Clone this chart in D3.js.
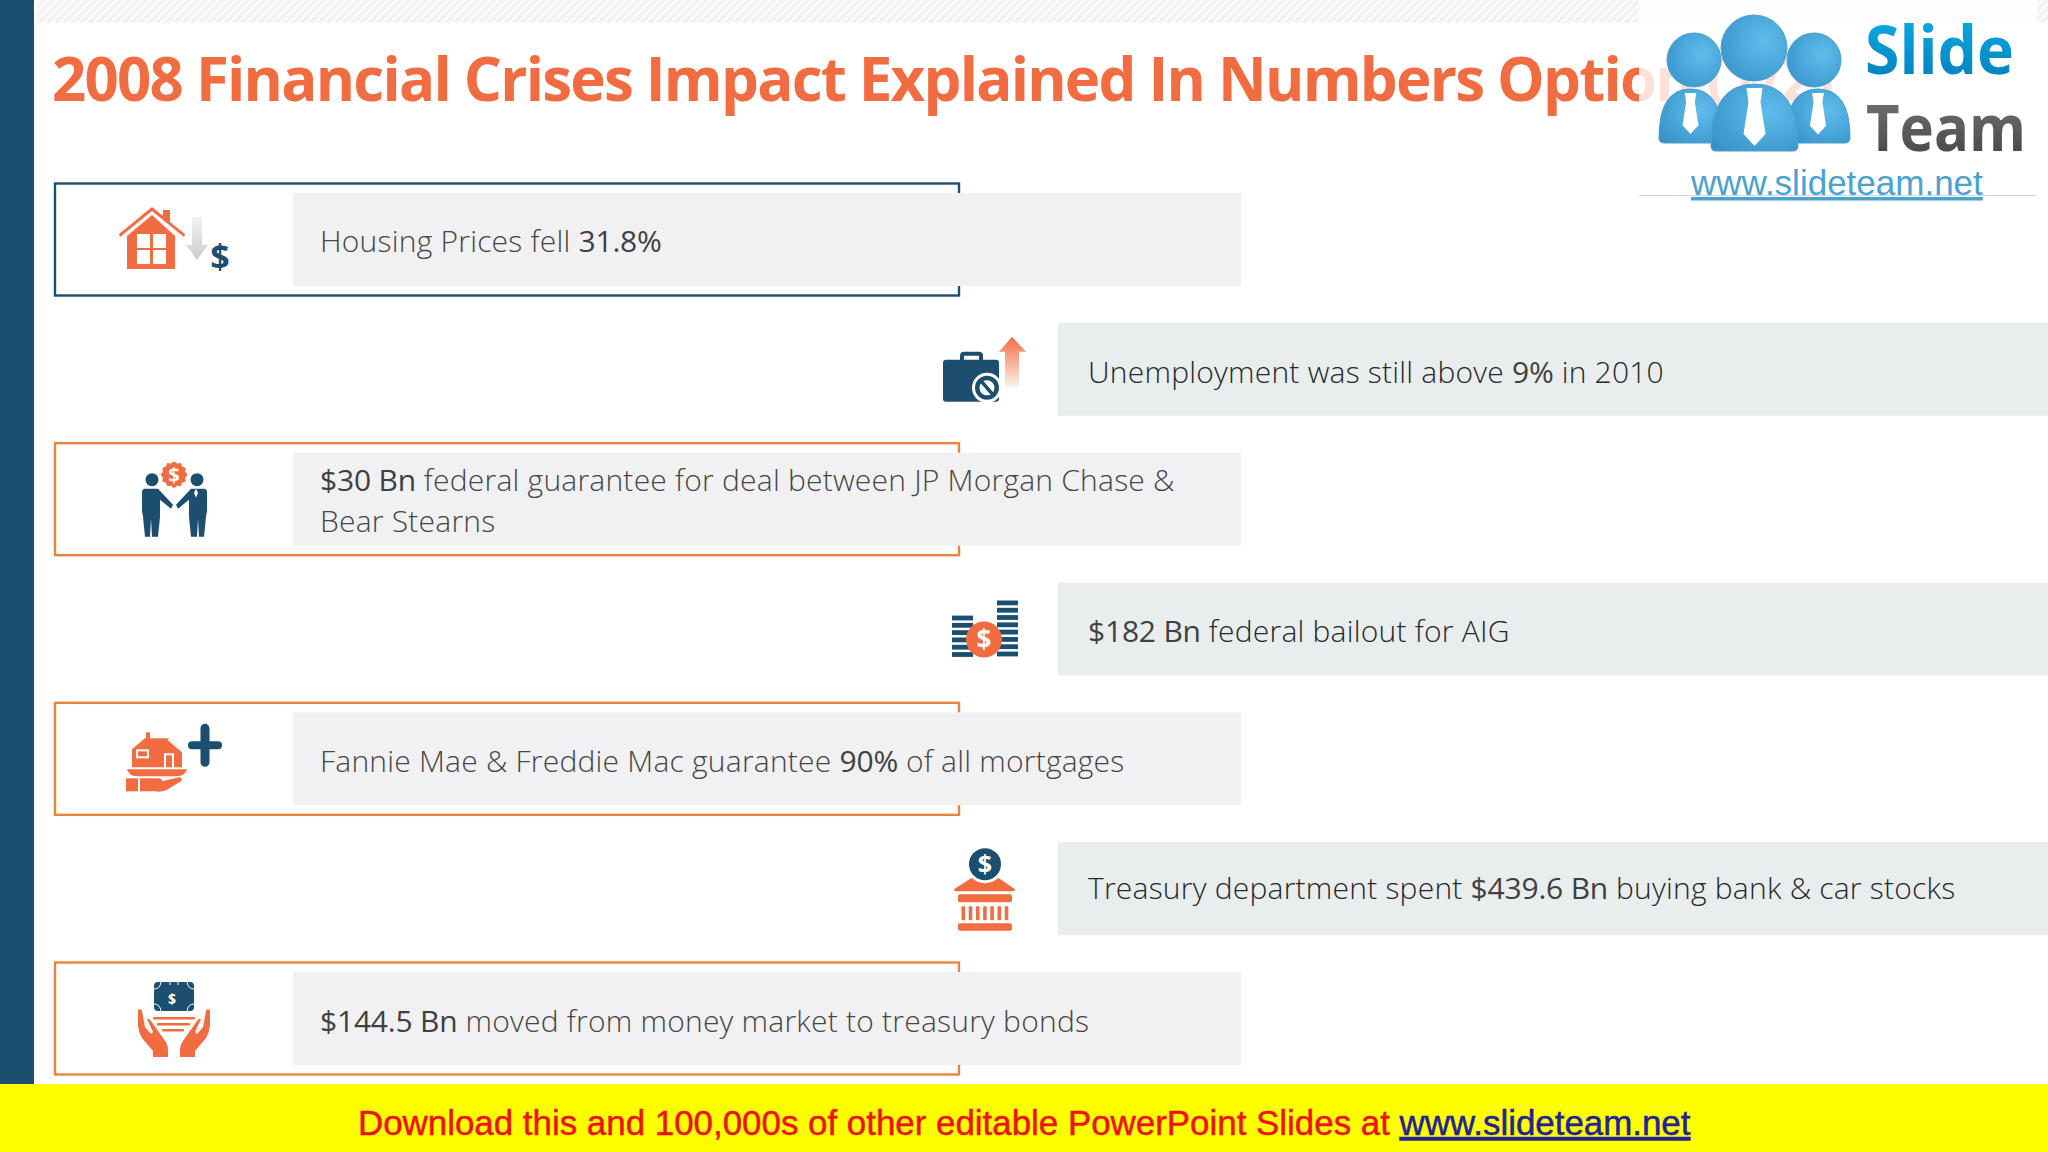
<!DOCTYPE html>
<html><head><meta charset="utf-8">
<script src="https://cdn.jsdelivr.net/npm/d3@7/dist/d3.min.js"></script>
<style>html,body{margin:0;padding:0;background:#fff;overflow:hidden}svg{display:block}</style>
</head><body>
<script>
// ---------- content ----------
const titleText = "2008 Financial Crises Impact Explained In Numbers Option (1/2)";
const rowOrder = [0,1,2,3,4,5,6];
const rowSegments = [
  [[["Housing Prices fell ",0],["31.8%",1]]],
  [[["Unemployment was still above ",0],["9%",1],[" in 2010",0]]],
  [[["$30 Bn",1],[" federal guarantee for deal between JP Morgan Chase &",0]],[["Bear Stearns",0]]],
  [[["$182 Bn",1],[" federal bailout for AIG",0]]],
  [[["Fannie Mae & Freddie Mac guarantee ",0],["90%",1],[" of all mortgages",0]]],
  [[["Treasury department spent ",0],["$439.6 Bn",1],[" buying bank & car stocks",0]]],
  [[["$144.5 Bn",1],[" moved from money market to treasury bonds",0]]]
];
const footerPlain = "Download this and 100,000s of other editable PowerPoint Slides at ";
const footerLink = "www.slideteam.net";
const logoWords = ["Slide","Team"];

// ---------- palette ----------
const NAVY="#1c4e6f", ORANGE="#f26c42", AMBER="#e8843c", GREYL="#f1f1f3", GREYR="#e9edee";

const W=2048,H=1152;
const svg=d3.select("body").append("svg").attr("width",W).attr("height",H).attr("viewBox",`0 0 ${W} ${H}`)
  .style("font-family","'Open Sans',sans-serif");
const defs=svg.append("defs");

const rowTop=d3.scaleLinear().domain([0,6]).range([193,972]);
const panelH=93;
const isLeft=i=>i%2===0;
const textNudge=[-1,1,0,0,0,-3,0];

// background
svg.append("rect").attr("width",W).attr("height",H).attr("fill","#fff");
const hatch=defs.append("pattern").attr("id","hatch").attr("width",6).attr("height",6)
  .attr("patternUnits","userSpaceOnUse").attr("patternTransform","rotate(-45)");
hatch.append("rect").attr("width",6).attr("height",6).attr("fill","#fafafa");
hatch.append("rect").attr("width",6).attr("height",3).attr("fill","#f1f2f1");
svg.append("rect").attr("x",36).attr("y",0).attr("width",W-36).attr("height",23).attr("fill","url(#hatch)");
svg.append("rect").attr("width",34).attr("height",H).attr("fill",NAVY);

// title
svg.append("text").attr("x",52).attr("y",101).attr("fill",ORANGE)
  .attr("font-size",60).attr("font-weight",700).attr("letter-spacing",-1.78).text(titleText);

// frames behind left panels
svg.append("g").selectAll("rect").data(rowOrder.filter(isLeft)).join("rect")
  .attr("x",55).attr("width",904)
  .attr("y",i=>rowTop(i)-9.5).attr("height",panelH+19)
  .attr("fill","#fff").attr("stroke",i=>i===0?NAVY:AMBER).attr("stroke-width",2.4);

// panels
svg.append("g").selectAll("rect").data(rowOrder).join("rect")
  .attr("x",i=>isLeft(i)?293:1058).attr("y",i=>rowTop(i))
  .attr("width",i=>isLeft(i)?948:W-1058).attr("height",panelH)
  .attr("fill",i=>isLeft(i)?GREYL:GREYR);

// panel text
const textG=svg.append("g").selectAll("g").data(rowOrder).join("g");
textG.each(function(i){
  const lines=rowSegments[i], g=d3.select(this);
  const mid=rowTop(i)+panelH/2;
  const first=lines.length>1?mid-8:mid+13+textNudge[i];
  lines.forEach((segs,k)=>{
    const t=g.append("text").attr("x",isLeft(i)?320:1088).attr("y",first+k*41)
      .attr("font-size",30).attr("letter-spacing",0.22).attr("xml:space","preserve")
      .style("white-space","pre")
      .attr("fill",isLeft(i)?"#454545":"#24282a");
    segs.forEach(([s,b])=>t.append("tspan").attr("font-weight",b?500:300)
      .attr("fill",b?"#404040":null).attr("letter-spacing",b?-0.2:null).text(s));
  });
});

// ---------- icons: x absolute, y measured from the row's panel top ----------
const icon=i=>svg.append("g").attr("transform",`translate(0,${rowTop(i)})`);
const P=(g,d,f)=>g.append("path").attr("d",d).attr("fill",f);
const R=(g,x,y,w,h,f,r=0)=>g.append("rect").attr("x",x).attr("y",y).attr("width",w).attr("height",h).attr("rx",r).attr("fill",f);
const C=(g,x,y,r,f)=>g.append("circle").attr("cx",x).attr("cy",y).attr("r",r).attr("fill",f);
const D=(g,x,y,s,f)=>g.append("text").attr("x",x).attr("y",y).attr("text-anchor","middle").attr("font-size",s)
   .attr("font-weight",700).attr("fill",f).text("$");
const grad=(id,c1,o1,c2,o2)=>{const l=defs.append("linearGradient").attr("id",id).attr("x1",0).attr("y1",0).attr("x2",0).attr("y2",1);
  l.append("stop").attr("offset",0).attr("stop-color",c1).attr("stop-opacity",o1);
  l.append("stop").attr("offset",1).attr("stop-color",c2).attr("stop-opacity",o2);};
grad("fadeGrey","#cfd2d4",0.3,"#c9cbcd",1);
grad("fadeOr",ORANGE,1,ORANGE,0.1);
grad("slideG","#0ab4ec",1,"#0079b8",1);
grad("teamG","#7b7b7b",1,"#3f3f3f",1);
grad("blueG","#62bdec",1,"#3b95cc",1);

// 0 house, arrow down, dollar
{const g=icon(0);
 P(g,"M119 41 L152 14 L163 23 L163 17 L170 17 L170 29 L185 41 L184 44 L152 18 L120 44Z",ORANGE);
 P(g,"M127 43 L152 22 L175 43 V76 H127Z",ORANGE);
 for(const [x,y] of [[137,41],[153,41],[137,57],[153,57]]) R(g,x,y,13,14,"#fff");
 P(g,"M192 24 H202 V52 H208 L197 67 L186 52 H192Z","url(#fadeGrey)");
 D(g,220,76,34,NAVY);
}
// 1 briefcase, arrow up
{const g=icon(1);
 P(g,"M1012 14 L1026 29 H1019 V64 H1005 V29 H999Z","url(#fadeOr)");
 P(g,"M960 38 V33 Q960 29 964 29 H979 Q983 29 983 33 V38 H979 V33 H964 V38Z",NAVY);
 R(g,943,37,56,42,NAVY,3);
 C(g,987,65,15,"#fff"); C(g,987,65,12,NAVY); C(g,987,65,7.5,"#fff");
 g.append("line").attr("x1",981).attr("y1",58).attr("x2",993).attr("y2",72).attr("stroke",NAVY).attr("stroke-width",3.5);
}
// 2 handshake
{const g=icon(2);
 const pts=d3.range(24).map(k=>{const a=k*Math.PI/12, r=k%2?11.5:13.5;return [174+r*Math.cos(a),22+r*Math.sin(a)];});
 g.append("polygon").attr("points",pts.map(p=>p.join(",")).join(" ")).attr("fill",ORANGE);
 D(g,174,29,20,"#fff");
 C(g,152,27,6.5,NAVY); C(g,197,27,6.5,NAVY);
 P(g,"M144 36 H158 L173 52 L171 56 L160 47 V64 L158 84 H152 L151 66 L150 84 H145 L143 64 L142 58 V38Z",NAVY);
 P(g,"M205 36 H191 L176 52 L178 56 L189 47 V64 L191 84 H197 L198 66 L199 84 H204 L206 64 L207 58 V38Z",NAVY);
 P(g,"M196 36 L198 40 L196 45 L194 40Z","#fff");
}
// 3 coin stacks
{const g=icon(3);
 const ys=[18,25.3,32.6,39.9,47.2,54.5,61.8,69.1];
 ys.forEach((y,k)=>R(g,997,y,21,4.8,NAVY));
 ys.slice(2).forEach(y=>R(g,952,y+0.5,21,4.8,NAVY));
 C(g,984,57,18,ORANGE);
 D(g,984,66,26,"#fff");
}
// 4 house on hand with plus
{const g=icon(4);
 P(g,"M146 20 H150 V28 H146Z",ORANGE);
 P(g,"M132 37 L145 26 L168 26 L182 38 V55 H132Z",ORANGE);
 P(g,"M168 27 L182 39","none").attr("stroke","#fff").attr("stroke-width",1.5);
 g.append("rect").attr("x",137).attr("y",38).attr("width",11).attr("height",7).attr("fill","none").attr("stroke","#fff").attr("stroke-width",2);
 g.append("path").attr("d","M165 55 V42 H173 V55").attr("fill","none").attr("stroke","#fff").attr("stroke-width",2);
 P(g,"M127 57 H187 Q185 64 176 64 H137 Q129 64 127 57Z",ORANGE);
 R(g,126,66,12,13,ORANGE);
 P(g,"M140 66 H158 Q162 66 162 69 L179 65 Q183 65 181 69 L166 78 Q160 80 155 79 H140Z",ORANGE);
 g.append("line").attr("x1",205).attr("x2",205).attr("y1",16).attr("y2",50).attr("stroke",NAVY).attr("stroke-width",9).attr("stroke-linecap","round");
 g.append("line").attr("x1",192).attr("x2",218).attr("y1",33).attr("y2",33).attr("stroke",NAVY).attr("stroke-width",8).attr("stroke-linecap","round");
}
// 5 bank
{const g=icon(5);
 P(g,"M954 47 L971 36 H999 L1015 47 Q1015 49 1012 49 H957 Q954 49 954 47Z",ORANGE);
 C(g,985,22,19,"#fff");
 C(g,985,22,16,NAVY); D(g,985,31,25,"#fff");
 R(g,958,52,54,8,ORANGE,2);
 d3.range(7).forEach(k=>R(g,961.5+k*7.2,64,3.6,14,ORANGE,1));
 R(g,958,81,54,7.5,ORANGE,2);
}
// 6 hands and bill
{const g=icon(6);
 R(g,154,10,40,29,NAVY,4);
 g.append("path").attr("d","M154 17 Q160 17 161 10 M187 10 Q188 17 194 17 M154 32 Q160 32 161 39 M187 39 Q188 32 194 32 M170 10 V13 M178 10 V13").attr("fill","none").attr("stroke","#fff").attr("stroke-width",1);
 D(g,172,32,14,"#fff");
 const hand="M138 38 Q141 36 142 39 L145 55 L151 62 L153 60 L147 47 Q149 46 151 49 L163 66 Q168 72 168 78 V85 H153 V79 L142 66 Q139 61 138 54Z";
 P(g,hand,ORANGE);
 P(g,hand,ORANGE).attr("transform","translate(348,0) scale(-1,1)");
 R(g,153,45,42,2.6,ORANGE,1); R(g,157,51,33,2.6,ORANGE,1); R(g,162,57,22,2.6,ORANGE,1);
}

// ---------- logo plate sits above the title ----------
svg.append("rect").attr("x",1639).attr("y",0).attr("width",398).attr("height",195).attr("fill","#fff").attr("opacity",0.8);
svg.append("line").attr("x1",1639).attr("x2",2037).attr("y1",195.5).attr("y2",195.5).attr("stroke","#d4d6d8");
const lg=svg.append("g");
const lrad=defs.append("radialGradient").attr("id","ball").attr("cx",0.65).attr("cy",0.4).attr("r",0.8);
lrad.append("stop").attr("offset",0).attr("stop-color","#5fbdec");
lrad.append("stop").attr("offset",1).attr("stop-color","#3792c8");
const person=(cx,cy,r,bx0,bx1,by0,by1)=>{
  C(lg,cx,cy,r,"url(#ball)").attr("stroke","#4b9fd0").attr("stroke-width",1);
  const w=bx1-bx0, m=(bx0+bx1)/2;
  P(lg,`M${bx0} ${by1-5} Q${bx0} ${by0} ${m} ${by0} Q${bx1} ${by0} ${bx1} ${by1-5} Q${bx1} ${by1} ${bx1-5} ${by1} H${bx0+5} Q${bx0} ${by1} ${bx0} ${by1-5}Z`,"url(#ball)")
   .attr("stroke","#4b9fd0").attr("stroke-width",1);
  const s=w/87;
  P(lg,`M${m-8*s} ${by0+4} H${m+8*s} L${m+6*s} ${by0+18*s} L${m+11*s} ${by0+50*s} L${m} ${by0+62*s} L${m-11*s} ${by0+50*s} L${m-6*s} ${by0+18*s}Z`,"#fff");
};
person(1694,60,27,1659,1722,89,143);
person(1814,60,27,1786,1850,89,143);
person(1754,48,33,1711,1798,84,151);
lg.append("text").attr("x",1865).attr("y",74).attr("font-size",66).attr("font-weight",700).attr("fill","url(#slideG)")
  .attr("textLength",149).attr("lengthAdjust","spacingAndGlyphs").text(logoWords[0]);
lg.append("text").attr("x",1866).attr("y",151).attr("font-size",64).attr("font-weight",700).attr("fill","url(#teamG)")
  .attr("textLength",160).attr("lengthAdjust","spacingAndGlyphs").text(logoWords[1]);
lg.append("text").attr("x",1691).attr("y",195).attr("font-family","'Liberation Sans',Arial,sans-serif").attr("font-size",35)
  .attr("fill","#4aa2d3").attr("text-decoration","underline").text(footerLink);

// ---------- footer ----------
svg.append("rect").attr("y",1084).attr("width",W).attr("height",68).attr("fill","#ffff00");
const ft=svg.append("text").attr("x",358).attr("y",1135).attr("font-family","'Liberation Sans',Arial,sans-serif")
  .attr("font-size",34.9).attr("xml:space","preserve").style("white-space","pre").attr("stroke-width",0.5);
ft.append("tspan").attr("fill","#f01010").attr("stroke","#f01010").text(footerPlain);
ft.append("tspan").attr("fill","#22229a").attr("stroke","#22229a").attr("text-decoration","underline").text(footerLink);
</script>
</body></html>
